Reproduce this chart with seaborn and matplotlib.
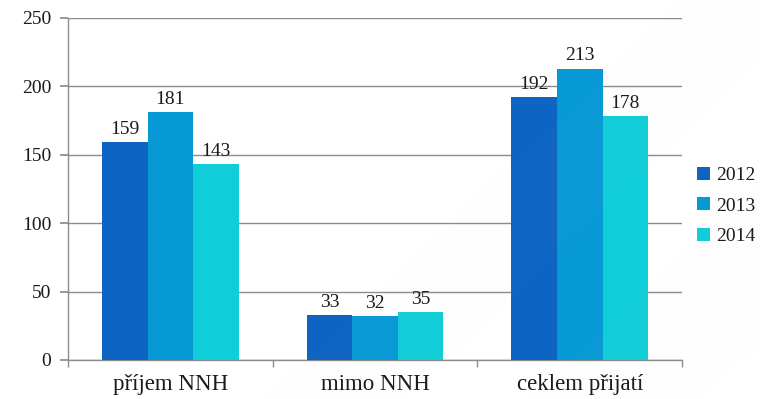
import matplotlib
matplotlib.use("Agg")
import matplotlib.pyplot as plt
import seaborn as sns
import pandas as pd
from matplotlib.ticker import FixedLocator

# Data
categories = ["příjem NNH", "mimo NNH", "ceklem přijatí"]
years = ["2012", "2013", "2014"]
values_2012 = [159, 33, 192]
values_2013 = [181, 32, 213]
values_2014 = [143, 35, 178]
y_ticks = [0, 50, 100, 150, 200, 250]

colors = ["#0E64C3", "#0799D6", "#10CED9"]

rows = []
for year, vals in zip(years, [values_2012, values_2013, values_2014]):
    for cat, v in zip(categories, vals):
        rows.append({"kategorie": cat, "rok": year, "počet": v})
df = pd.DataFrame(rows)

sns.set_theme(style="white")
plt.rcParams["font.family"] = ["Liberation Serif", "DejaVu Serif"]

fig = plt.figure(figsize=(7.6, 3.99), dpi=100)
ax = fig.add_axes([0.0895, 0.098, 0.808, 0.857])

# very faint decorative diagonal bands in the background
for x0, w in [(0.35, 0.18), (0.70, 0.22)]:
    fig.patches.append(plt.Polygon(
        [(x0, 0), (x0 + w, 0), (x0 + w + 0.55, 1), (x0 + 0.55, 1)],
        closed=True, transform=fig.transFigure, facecolor="#9aa0a8",
        alpha=0.015, edgecolor="none", zorder=0))
ax.set_facecolor("none")

sns.barplot(data=df, x="kategorie", y="počet", hue="rok", palette=colors,
            width=0.667, saturation=1, ax=ax, zorder=3, legend=True,
            edgecolor="none", linewidth=0)

for container in ax.containers:
    ax.bar_label(container, padding=3, fontsize=14, color="#1a1a1a")

ax.set_ylim(0, 250)
ax.set_xlim(-0.5, 2.5)
ax.set_yticks(y_ticks)
ax.yaxis.grid(True, color="#8c8c8c", linewidth=1.0, zorder=1)
ax.set_xlabel("")
ax.set_ylabel("")

for s in ["top", "right"]:
    ax.spines[s].set_visible(False)
for s in ["left", "bottom"]:
    ax.spines[s].set_color("#8c8c8c")
    ax.spines[s].set_linewidth(1.0)

ax.tick_params(axis="y", which="major", left=True, length=6, color="#8c8c8c",
               labelsize=14, pad=6, labelcolor="#1a1a1a")
ax.tick_params(axis="x", which="major", bottom=False, labelsize=16.5,
               pad=4, labelcolor="#1a1a1a")
ax.xaxis.set_minor_locator(FixedLocator([-0.5, 0.5, 1.5, 2.5]))
ax.tick_params(axis="x", which="minor", bottom=True, length=5,
               color="#8c8c8c", width=1.0)

leg = ax.legend(loc="center left", bbox_to_anchor=(1.012, 0.45), frameon=False,
                fontsize=14, handlelength=0.65, handleheight=0.65,
                handletextpad=0.3, labelspacing=0.68, borderaxespad=0)
for t in leg.get_texts():
    t.set_color("#1a1a1a")

fig.savefig("out.png", dpi=100)
